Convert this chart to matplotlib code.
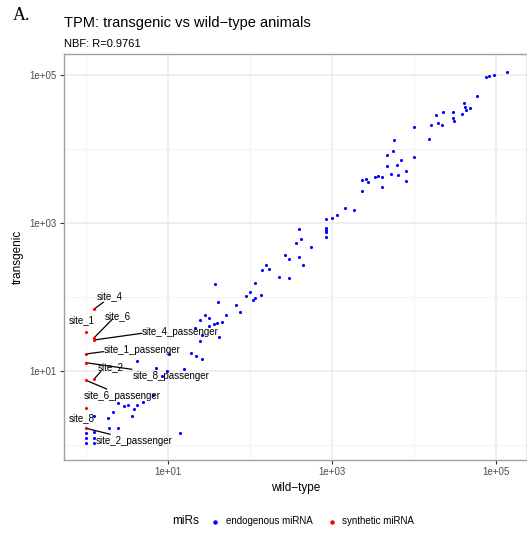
import numpy as np
import matplotlib
matplotlib.use("Agg")
import matplotlib.pyplot as plt

plt.rcParams['font.family'] = ['Liberation Sans', 'DejaVu Sans']

# log10 TPM, endogenous miRNAs (wild-type, transgenic)
endo_wt_log = [0.0, 0.0, 0.0, 0.10, 0.10, 0.10, 0.10, 0.272, 0.326, 0.390,
               0.463, 0.516, 0.585, 0.626, 0.699, 0.557, 0.813, 0.277, 0.387, 1.146,
               0.618, 0.850, 0.988, 1.199, 0.930, 1.012, 1.277, 1.338, 1.415, 1.326,
               1.390, 1.418, 1.390, 1.455, 1.500, 1.504, 1.565, 1.601, 1.661, 1.707,
               1.628, 1.573, 1.606, 1.829, 1.880, 1.957, 2.000, 2.039, 2.057, 2.057,
               2.138, 2.146, 2.191, 2.235, 2.351, 2.470, 2.433, 2.476, 2.598, 2.643,
               2.561, 2.598, 2.622, 2.750, 2.933, 2.930, 2.930, 2.930, 2.924, 3.004,
               3.061, 3.162, 3.268, 3.368, 3.372, 3.411, 3.443, 3.524, 3.557, 3.612,
               3.606, 3.667, 3.673, 3.717, 3.744, 3.760, 3.793, 3.811, 3.845, 3.899,
               3.899, 3.996, 4.004, 4.187, 4.204, 4.272, 4.296, 4.341, 4.357, 4.472,
               4.472, 4.491, 4.585, 4.606, 4.626, 4.634, 4.687, 4.772, 4.874, 4.911,
               4.976, 5.138]
endo_tg_log = [0.158, 0.099, 0.031, 0.172, 0.099, 0.031, 0.389, 0.358, 0.446, 0.574,
               0.527, 0.541, 0.480, 0.543, 0.585, 0.392, 0.676, 0.223, 0.223, 0.166,
               1.132, 1.036, 1.004, 1.024, 0.936, 1.226, 1.247, 1.209, 1.165, 1.581,
               1.409, 1.491, 1.689, 1.754, 1.712, 1.608, 1.635, 1.653, 1.666, 1.750,
               1.462, 2.173, 1.935, 1.892, 1.801, 2.020, 2.068, 1.959, 1.991, 2.186,
               2.031, 2.369, 2.436, 2.372, 2.270, 2.253, 2.572, 2.518, 2.536, 2.428,
               2.734, 2.919, 2.780, 2.676, 3.050, 2.928, 2.905, 2.882, 2.815, 3.064,
               3.112, 3.205, 3.173, 3.432, 3.581, 3.595, 3.551, 3.626, 3.631, 3.624,
               3.482, 3.915, 3.766, 3.662, 3.969, 4.118, 3.784, 3.649, 3.855, 3.707,
               3.564, 4.293, 3.892, 4.139, 4.320, 4.455, 4.355, 4.324, 4.496, 4.504,
               4.415, 4.378, 4.477, 4.622, 4.568, 4.523, 4.550, 4.716, 4.977, 4.991,
               5.004, 5.036]

# synthetic miRNAs
syn_names = ['site_4', 'site_1', 'site_6', 'site_4_passenger', 'site_1_passenger',
             'site_8_passenger', 'site_2', 'site_6_passenger', 'site_8', 'site_2_passenger']
syn_wt_log = [0.10, 0.0, 0.10, 0.10, 0.0, 0.0, 0.10, 0.0, 0.0, 0.0]
syn_tg_log = [1.838, 1.531, 1.450, 1.419, 1.230, 1.112, 0.892, 0.874, 0.496, 0.226]

# repelled label placement (left edge, log10), and where each segment meets its label
lab_pos = [(0.134, 2.014), (-0.207, 1.689), (0.232, 1.743), (0.683, 1.523), (0.220, 1.284),
           (0.573, 0.932), (0.146, 1.054), (-0.024, 0.666), (-0.207, 0.361), (0.122, 0.054)]
seg_end = [(0.211, 1.928), None, (0.321, 1.699), (0.679, 1.509), (0.211, 1.261),
           (0.557, 1.023), (0.179, 0.991), (0.252, 0.757), None, (0.293, 0.145)]

wt_ticks = [1, 3, 5]
tick_labels = ['1e+01', '1e+03', '1e+05']

fig = plt.figure(figsize=(5.27, 5.35), dpi=100)
W, H = 527, 535
ax = fig.add_axes([64 / W, 1 - 460 / H, (527 - 64) / W, (460 - 54) / H])

ax.set_xscale('log')
ax.set_yscale('log')
ax.set_xlim(10 ** -0.268, 10 ** 5.378)
ax.set_ylim(10 ** -0.203, 10 ** 5.284)

ax.set_xticks([10.0 ** t for t in wt_ticks])
ax.set_xticklabels(tick_labels)
ax.set_yticks([10.0 ** t for t in wt_ticks])
ax.set_yticklabels(tick_labels)
minor = [1.0, 1e2, 1e4]
ax.set_xticks(minor, minor=True)
ax.set_yticks(minor, minor=True)
ax.set_xticklabels([], minor=True)
ax.set_yticklabels([], minor=True)
ax.tick_params(which='minor', length=0)
ax.tick_params(which='major', length=3, width=0.8, color='#333333',
               labelsize=7, labelcolor='#4d4d4d', pad=2)
ax.grid(which='major', color='#ebebeb', lw=1.1)
ax.grid(which='minor', color='#f2f2f2', lw=0.6)
ax.set_axisbelow(True)
for s in ax.spines.values():
    s.set_color('#a0a0a0')
    s.set_linewidth(1.0)

ax.scatter(10 ** np.array(endo_wt_log), 10 ** np.array(endo_tg_log),
           s=5, color='#0000ff', lw=0, zorder=3)
ax.scatter(10 ** np.array(syn_wt_log), 10 ** np.array(syn_tg_log),
           s=5, color='#ff0000', lw=0, zorder=3)

for name, x, y, (lx, ly), se in zip(syn_names, syn_wt_log, syn_tg_log, lab_pos, seg_end):
    if se is not None:
        ax.plot([10 ** x, 10 ** se[0]], [10 ** y, 10 ** se[1]], color='black', lw=0.9, zorder=2)
    ax.text(10 ** lx, 10 ** ly, name, fontsize=7, ha='left', va='center', zorder=4)

ax.set_xlabel('wild\u2212type', fontsize=8.5, labelpad=4)
ax.set_ylabel('transgenic', fontsize=8.5, labelpad=4)

fig.text(13 / W, 1 - 16 / H, 'A.', fontsize=13, family='Liberation Serif', va='center')
fig.text(64 / W, 1 - 23 / H, 'TPM: transgenic vs wild\u2212type animals', fontsize=10.5, va='center')
fig.text(64 / W, 1 - 44 / H, 'NBF: R=0.9761', fontsize=8, va='center')

# legend along the bottom
ly = 1 - 521.5 / H
fig.text(172 / W, ly, 'miRs', fontsize=8.5, va='center')
fig.lines.append(matplotlib.lines.Line2D([215 / W], [ly], transform=fig.transFigure,
                                         marker='o', ms=2.2, color='#0000ff', lw=0))
fig.text(226 / W, ly, 'endogenous miRNA', fontsize=7, va='center')
fig.lines.append(matplotlib.lines.Line2D([331.5 / W], [ly], transform=fig.transFigure,
                                         marker='o', ms=2.2, color='#ff0000', lw=0))
fig.text(342.5 / W, ly, 'synthetic miRNA', fontsize=7, va='center')

fig.savefig('out.png', dpi=100)
